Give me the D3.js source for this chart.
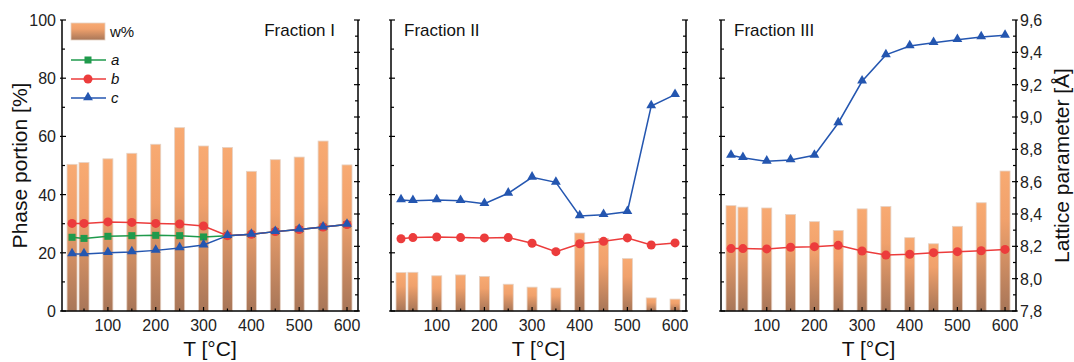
<!DOCTYPE html>
<html lang="en">
<head>
<meta charset="UTF-8">
<script src="https://d3js.org/d3.v7.min.js"></script>
<style>
  body { margin: 0; background: #fff; }
  svg { font-family: "Liberation Sans", Arial, sans-serif; }
</style>
</head>
<body>
<div id="chart_area"></div>
<script>
// temperatures (°C)
var temps = [25, 50, 100, 150, 200, 250, 300, 350, 400, 450, 500, 550, 600];

// phase portion w% per fraction
var wI   = [50.4, 51.0, 52.3, 54.2, 57.3, 63.0, 56.7, 56.2, 48.0, 52.0, 52.9, 58.4, 50.2];
var wII  = [13.2, 13.3, 12.1, 12.4, 11.9, 9.2, 8.2, 7.9, 26.8, 24.9, 18.0, 4.5, 4.1];
var wIII = [36.2, 35.7, 35.4, 33.2, 30.7, 27.7, 35.1, 35.9, 25.2, 23.1, 29.1, 37.2, 48.1];

// lattice parameters (Å)
var aI   = [8.256, 8.249, 8.262, 8.266, 8.268, 8.266, 8.258, 8.266, 8.274, 8.291, 8.304, 8.319, 8.335];
var bI   = [8.342, 8.342, 8.351, 8.348, 8.342, 8.338, 8.326, 8.266, 8.274, 8.291, 8.304, 8.319, 8.335];
var cI   = [8.153, 8.153, 8.161, 8.165, 8.175, 8.190, 8.208, 8.266, 8.274, 8.291, 8.304, 8.319, 8.335];
var bII  = [8.247, 8.254, 8.258, 8.254, 8.252, 8.254, 8.219, 8.167, 8.216, 8.231, 8.252, 8.208, 8.221];
var cII  = [8.487, 8.482, 8.487, 8.482, 8.464, 8.528, 8.627, 8.596, 8.388, 8.396, 8.414, 9.068, 9.138];
var bIII = [8.186, 8.186, 8.184, 8.194, 8.198, 8.206, 8.171, 8.146, 8.151, 8.161, 8.167, 8.173, 8.181];
var cIII = [8.763, 8.748, 8.726, 8.734, 8.763, 8.963, 9.221, 9.384, 9.439, 9.460, 9.478, 9.495, 9.505];

var xTicks = [100, 200, 300, 400, 500, 600];
var yTicks = [0, 20, 40, 60, 80, 100];
var latTicks = [7.8, 8.0, 8.2, 8.4, 8.6, 8.8, 9.0, 9.2, 9.4, 9.6];

var colA = "#1f9a4c", colB = "#ec3c3c", colC = "#2456b0";

var panels = [
  { name: "Fraction I",   left: 62,  right: 358,  w: wI,   series: [["a", aI], ["b", bI], ["c", cI]], titleRight: true },
  { name: "Fraction II",  left: 391, right: 686,  w: wII,  series: [["b", bII], ["c", cII]] },
  { name: "Fraction III", left: 721, right: 1016, w: wIII, series: [["b", bIII], ["c", cIII]] }
];
var plotTop = 20, plotBot = 311;

var svg = d3.select("#chart_area").append("svg")
  .attr("width", 1074).attr("height", 362);

var defs = svg.append("defs");
var grad = defs.append("linearGradient").attr("id", "barGrad")
  .attr("x1", 0).attr("y1", 0).attr("x2", 0).attr("y2", 1);
grad.append("stop").attr("offset", "0%").attr("stop-color", "#f8aa72");
grad.append("stop").attr("offset", "35%").attr("stop-color", "#f0a16c");
grad.append("stop").attr("offset", "100%").attr("stop-color", "#a87658");

var yW = d3.scaleLinear().domain([0, 100]).range([plotBot, plotTop]);
var yL = d3.scaleLinear().domain([7.8, 9.6]).range([plotBot, plotTop]);

var colors = { a: colA, b: colB, c: colC };

function marker(g, kind, x, y) {
  if (kind === "a") {
    g.append("rect").attr("x", x - 3.5).attr("y", y - 3.5).attr("width", 7).attr("height", 7).attr("fill", colA);
  } else if (kind === "b") {
    g.append("circle").attr("cx", x).attr("cy", y).attr("r", 4.5).attr("fill", colB);
  } else {
    g.append("path").attr("d", d3.symbol().type(d3.symbolTriangle).size(42)()).attr("transform", "translate(" + x + "," + (y - 0.5) + ")").attr("fill", colC);
  }
}

panels.forEach(function(p, pi) {
  var x = d3.scaleLinear().domain([4, 623]).range([p.left, p.right]);
  var g = svg.append("g");

  // bars
  g.selectAll("rect.bar").data(p.w).enter().append("rect")
    .attr("class", "bar")
    .attr("x", function(d, i) { return x(temps[i]) - 5; })
    .attr("width", 10)
    .attr("y", function(d) { return yW(d); })
    .attr("height", function(d) { return plotBot - yW(d); })
    .attr("fill", "url(#barGrad)")
    .attr("stroke", "#e6d2c4").attr("stroke-width", 0.8);

  // lines + markers, blue drawn last
  var line = d3.line().x(function(d, i) { return x(temps[i]); }).y(function(d) { return yL(d); });
  p.series.forEach(function(s) {
    g.append("path").datum(s[1]).attr("d", line)
      .attr("fill", "none").attr("stroke", colors[s[0]]).attr("stroke-width", 1.5);
    s[1].forEach(function(v, i) { marker(g, s[0], x(temps[i]), yL(v)); });
  });

  // frame
  g.append("line").attr("x1", p.left).attr("x2", p.left).attr("y1", plotTop).attr("y2", plotBot).attr("stroke", "#000").attr("stroke-width", 1.5);
  g.append("line").attr("x1", p.right).attr("x2", p.right).attr("y1", plotTop).attr("y2", plotBot).attr("stroke", "#000").attr("stroke-width", 1.5);
  g.append("line").attr("x1", p.left - 0.75).attr("x2", p.right + 0.75).attr("y1", plotBot).attr("y2", plotBot).attr("stroke", "#000").attr("stroke-width", 1.5);

  // left ticks (phase portion), inward
  d3.range(0, 101, 10).forEach(function(v) {
    var major = v % 20 === 0;
    g.append("line").attr("x1", p.left - (major ? 2 : 0)).attr("x2", p.left + (major ? 4 : 3))
      .attr("y1", yW(v)).attr("y2", yW(v)).attr("stroke", "#000").attr("stroke-width", 1.2);
  });
  // right ticks (lattice), inward
  d3.range(0, 19).forEach(function(k) {
    var v = 7.8 + k * 0.1;
    var major = k % 2 === 0;
    g.append("line").attr("x1", p.right - (major ? 4 : 3)).attr("x2", p.right + (major ? 2 : 0))
      .attr("y1", yL(v)).attr("y2", yL(v)).attr("stroke", "#000").attr("stroke-width", 1.2);
  });
  // bottom ticks
  d3.range(50, 601, 50).forEach(function(v) {
    var major = v % 100 === 0;
    g.append("line").attr("x1", x(v)).attr("x2", x(v)).attr("y1", plotBot).attr("y2", plotBot - (major ? 4 : 2.5))
      .attr("stroke", "#000").attr("stroke-width", 1.2);
  });

  g.selectAll("text.xt").data(xTicks).enter().append("text")
    .attr("x", function(d) { return x(d); }).attr("y", 331)
    .attr("text-anchor", "middle").attr("font-size", 16).attr("fill", "#222")
    .text(function(d) { return d; });

  g.append("text").attr("x", (p.left + p.right) / 2).attr("y", 356)
    .attr("text-anchor", "middle").attr("font-size", 21).attr("fill", "#111").text("T [°C]");

  g.append("text")
    .attr("x", p.titleRight ? 335 : p.left + 13).attr("y", 36)
    .attr("text-anchor", p.titleRight ? "end" : "start")
    .attr("font-size", 17).attr("fill", "#111").text(p.name);

  if (pi === 0) {
    g.selectAll("text.yt").data(yTicks).enter().append("text")
      .attr("x", 56).attr("y", function(d) { return yW(d) + 6; })
      .attr("text-anchor", "end").attr("font-size", 16).attr("fill", "#222")
      .text(function(d) { return d; });
    g.append("text").attr("transform", "translate(27," + ((plotTop + plotBot) / 2) + ") rotate(-90)")
      .attr("text-anchor", "middle").attr("font-size", 21).attr("fill", "#111").text("Phase portion [%]");

    // legend
    var lg = g.append("g");
    lg.append("rect").attr("x", 71).attr("y", 23).attr("width", 34).attr("height", 17)
      .attr("fill", "url(#barGrad)").attr("stroke", "#e6d2c4").attr("stroke-width", 0.8);
    lg.append("text").attr("x", 110).attr("y", 37).attr("font-size", 15).attr("fill", "#111").text("w%");
    [["a", 60], ["b", 79], ["c", 98]].forEach(function(e) {
      lg.append("line").attr("x1", 71).attr("x2", 106).attr("y1", e[1]).attr("y2", e[1])
        .attr("stroke", colors[e[0]]).attr("stroke-width", 1.5);
      marker(lg, e[0], 88, e[1]);
      lg.append("text").attr("x", 111).attr("y", e[1] + 5).attr("font-size", 15)
        .attr("font-style", "italic").attr("fill", "#111").text(e[0]);
    });
  }
  if (pi === 2) {
    g.selectAll("text.rt").data(latTicks).enter().append("text")
      .attr("x", p.right + 4).attr("y", function(d) { return yL(d) + 6; })
      .attr("font-size", 16).attr("fill", "#222")
      .text(function(d) { return d.toFixed(1).replace(".", ","); });
    g.append("text").attr("transform", "translate(1069," + ((plotTop + plotBot) / 2) + ") rotate(-90)")
      .attr("text-anchor", "middle").attr("font-size", 21).attr("fill", "#111").text("Lattice parameter [Å]");
  }
});
</script>
</body>
</html>
